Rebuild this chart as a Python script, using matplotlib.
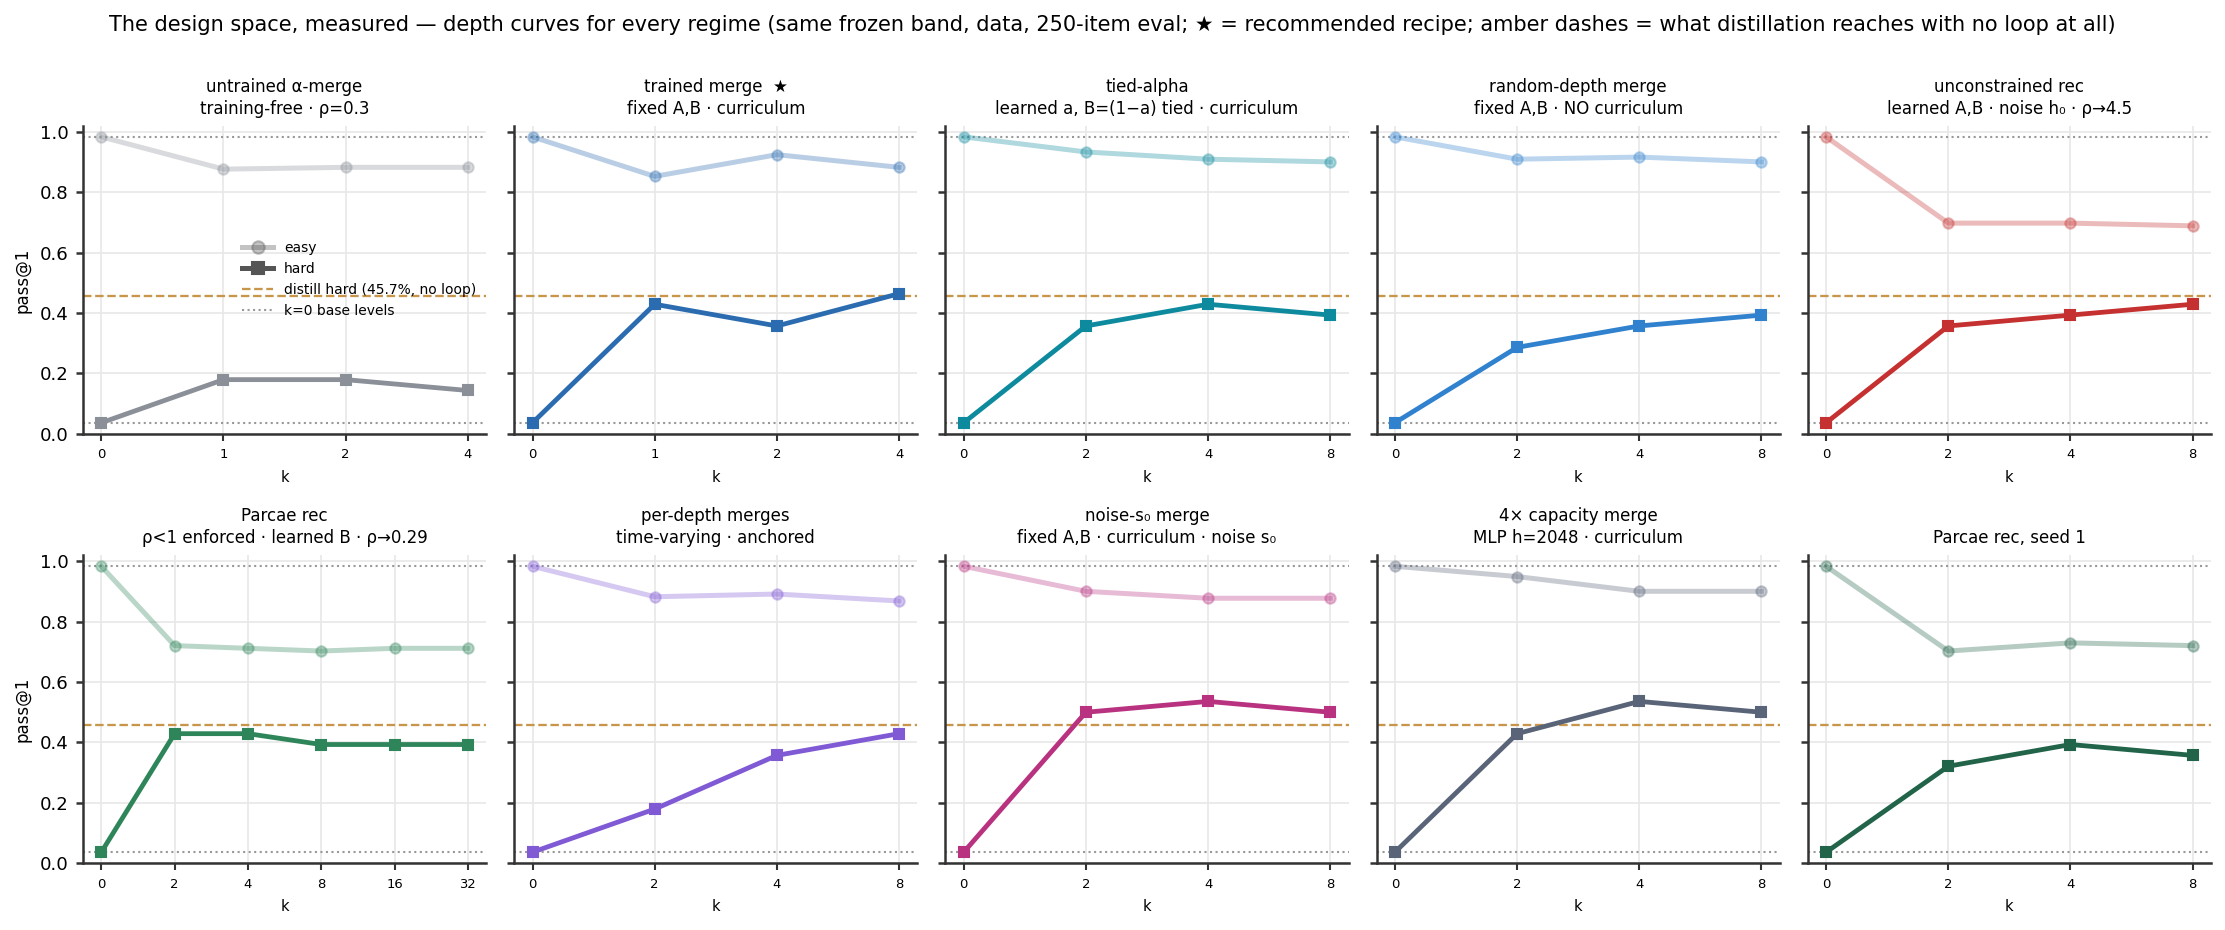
import matplotlib
matplotlib.use("Agg")
import matplotlib.pyplot as plt
from matplotlib.lines import Line2D

plt.rcParams['font.family'] = ['DejaVu Sans']

# ---------------- data ----------------
titles = [
    "untrained α-merge\ntraining-free · ρ=0.3",
    "trained merge  ★\nfixed A,B · curriculum",
    "tied-alpha\nlearned a, B=(1−a) tied · curriculum",
    "random-depth merge\nfixed A,B · NO curriculum",
    "unconstrained rec\nlearned A,B · noise h₀ · ρ→4.5",
    "Parcae rec\nρ<1 enforced · learned B · ρ→0.29",
    "per-depth merges\ntime-varying · anchored",
    "noise-s₀ merge\nfixed A,B · curriculum · noise s₀",
    "4× capacity merge\nMLP h=2048 · curriculum",
    "Parcae rec, seed 1",
]
k_labels = [
    ["0", "1", "2", "4"],
    ["0", "1", "2", "4"],
    ["0", "2", "4", "8"],
    ["0", "2", "4", "8"],
    ["0", "2", "4", "8"],
    ["0", "2", "4", "8", "16", "32"],
    ["0", "2", "4", "8"],
    ["0", "2", "4", "8"],
    ["0", "2", "4", "8"],
    ["0", "2", "4", "8"],
]
easy = [
    [0.984, 0.877, 0.883, 0.883],
    [0.984, 0.853, 0.925, 0.883],
    [0.984, 0.934, 0.910, 0.901],
    [0.984, 0.910, 0.917, 0.901],
    [0.984, 0.698, 0.698, 0.689],
    [0.984, 0.721, 0.712, 0.703, 0.712, 0.712],
    [0.984, 0.883, 0.892, 0.869],
    [0.984, 0.901, 0.878, 0.878],
    [0.984, 0.950, 0.901, 0.901],
    [0.984, 0.703, 0.730, 0.721],
]
hard = [
    [0.036, 0.179, 0.179, 0.143],
    [0.036, 0.429, 0.357, 0.464],
    [0.036, 0.357, 0.429, 0.393],
    [0.036, 0.286, 0.357, 0.393],
    [0.036, 0.357, 0.393, 0.429],
    [0.036, 0.429, 0.429, 0.393, 0.393, 0.393],
    [0.036, 0.179, 0.357, 0.429],
    [0.036, 0.500, 0.536, 0.500],
    [0.036, 0.429, 0.536, 0.500],
    [0.036, 0.321, 0.393, 0.357],
]
colors = ["#8a8f98", "#2b6cb0", "#0e8a9e", "#3182ce", "#c53030",
          "#2f855a", "#805ad5", "#b83280", "#5a6478", "#22644a"]
distill_hard = 0.457
base_easy = 0.984
base_hard = 0.036

suptitle = ("The design space, measured — depth curves for every regime (same frozen band, data, "
            "250-item eval; ★ = recommended recipe; amber dashes = what distillation reaches with no loop at all)")

# ---------------- figure ----------------
fig, axes = plt.subplots(2, 5, figsize=(2225/150, 930/150), dpi=150, sharey=True)
fig.subplots_adjust(left=0.0373, right=0.9937, top=0.8645, bottom=0.072,
                    wspace=0.0695, hspace=0.396)

amber = "#c8964b"
for i, ax in enumerate(axes.flat):
    c = colors[i]
    x = list(range(len(k_labels[i])))
    ax.axhline(base_easy, color="#999999", ls=":", lw=1.0, zorder=1)
    ax.axhline(base_hard, color="#999999", ls=":", lw=1.0, zorder=1)
    ax.axhline(distill_hard, color=amber, ls="--", lw=1.1, zorder=1)
    ax.plot(x, easy[i], color=c, alpha=0.33, lw=2.4, marker="o", ms=5, zorder=2)
    ax.plot(x, hard[i], color=c, lw=2.3, marker="s", ms=5, zorder=3)
    ax.set_xticks(x)
    ax.set_xticklabels(k_labels[i])
    ax.set_ylim(0, 1.02)
    ax.set_yticks([0, 0.2, 0.4, 0.6, 0.8, 1.0])
    ax.set_title(titles[i], fontsize=8, pad=6, linespacing=1.25)
    ax.set_xlabel("k", fontsize=7)
    ax.grid(True, color="#e8e8e8", lw=0.8, zorder=0)
    ax.set_axisbelow(True)
    for s in ["top", "right"]:
        ax.spines[s].set_visible(False)
    for s in ["left", "bottom"]:
        ax.spines[s].set_color("#333333")
        ax.spines[s].set_linewidth(1.2)
    ax.tick_params(axis="x", labelsize=6.3, color="#333333", width=1.0, length=3.5)
    ax.tick_params(axis="y", labelsize=8.7, color="#333333", width=1.2, length=3.5)
    if i % 5 == 0:
        ax.set_ylabel("pass@1", fontsize=8)

handles = [
    Line2D([], [], color="#555555", alpha=0.35, lw=2.4, marker="o", ms=6),
    Line2D([], [], color="#555555", lw=2.4, marker="s", ms=6),
    Line2D([], [], color=amber, ls="--", lw=1.1),
    Line2D([], [], color="#999999", ls=":", lw=1.0),
]
axes[0, 0].legend(handles, ["easy", "hard", "distill hard (45.7%, no loop)", "k=0 base levels"],
                  loc="center right", frameon=False, fontsize=6.7, handlelength=2.2,
                  borderaxespad=0.3)

fig.suptitle(suptitle, fontsize=10, y=0.984)
fig.savefig("out.png", dpi=150)
